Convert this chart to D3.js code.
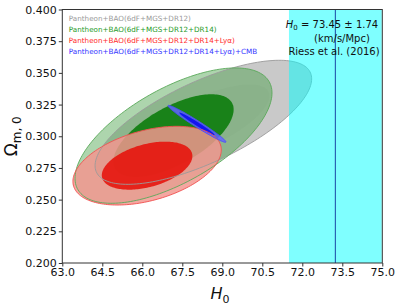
<!DOCTYPE html>
<html>
<head>
<meta charset="utf-8">
<script src="https://cdn.jsdelivr.net/npm/d3@7"></script>
<style>
  html, body { margin: 0; padding: 0; background: #fff; }
  svg { display: block; font-family: "DejaVu Sans", sans-serif; }
</style>
</head>
<body>
<svg id="chart" width="399" height="307"></svg>
<script>
// ---------- data ----------
const xTicks = [63.0, 64.5, 66.0, 67.5, 69.0, 70.5, 72.0, 73.5, 75.0];
const yTicks = [0.200, 0.225, 0.250, 0.275, 0.300, 0.325, 0.350, 0.375, 0.400];
const seriesNames = [
  "Pantheon+BAO(6dF+MGS+DR12)",
  "Pantheon+BAO(6dF+MGS+DR12+DR14)",
  "Pantheon+BAO(6dF+MGS+DR12+DR14+Lyα)",
  "Pantheon+BAO(6dF+MGS+DR12+DR14+Lyα)+CMB"
];
// Gaussian posterior summaries: mean H0, mean Om, sigma H0, sigma Om, correlation
const meanH0   = [68.29, 67.17, 66.18, 68.05];
const meanOm   = [0.311, 0.3005, 0.2768, 0.3098];
const sigmaH0  = [1.635, 1.487, 1.12, 0.437];
const sigmaOm  = [0.0197, 0.0215, 0.0125, 0.00586];
const corr     = [0.70, 0.63, 0.40, -0.98];
const levels   = [6.17, 2.30];          // delta chi^2 for 2 sigma, 1 sigma
const riessH0  = 73.24;
const riessErr = 1.74;
const riessText = ["H0 = 73.45 ± 1.74", "(km/s/Mpc)", "Riess et al. (2016)"];

// ---------- styles ----------
const fill2 = ["#c9c9c9", "#3c9a3c", "#f3968f", "#6464ff"];
const op2   = [1.0, 0.42, 0.84, 0.85];
const fill1 = ["#c3c3c3", "#137f13", "#e5150d", "#1010f0"];
const op1   = [1.0, 0.95, 0.9, 0.95];
const edge  = ["#9a9a9a", "#5aa85a", "#f25050", "#4a4aff"];
const legendColors = ["#9a9a9a", "#1f9a1f", "#ff2a2a", "#3434ff"];

const W = 399, H = 307;
const m = { left: 62.3, top: 9.5, right: 399 - 382.3, bottom: 307 - 263 };
const svg = d3.select("#chart");

const x = d3.scaleLinear().domain([63, 75]).range([m.left, W - m.right]);
const y = d3.scaleLinear().domain([0.2, 0.4]).range([H - m.bottom, m.top]);

svg.append("defs").append("clipPath").attr("id", "clip")
  .append("rect").attr("x", x(63)).attr("y", y(0.4))
  .attr("width", x(75) - x(63)).attr("height", y(0.2) - y(0.4));

const plot = svg.append("g").attr("clip-path", "url(#clip)");

function contour(i, k) {
  const r = Math.sqrt(k);
  const sH = sigmaH0[i], sO = sigmaOm[i], rho = corr[i];
  const pts = d3.range(0, 361, 2).map(a => {
    const t = a * Math.PI / 180;
    const u = Math.cos(t), v = Math.sin(t);
    const dH = r * sH * u;
    const dO = r * (rho * sO * u + sO * Math.sqrt(1 - rho * rho) * v);
    return [x(meanH0[i] + dH), y(meanOm[i] + dO)];
  });
  return d3.line()(pts) + "Z";
}

// fills
for (let i = 0; i < 4; i++) {
  plot.append("path").attr("d", contour(i, levels[0]))
    .attr("fill", fill2[i]).attr("fill-opacity", op2[i]);
  plot.append("path").attr("d", contour(i, levels[1]))
    .attr("fill", fill1[i]).attr("fill-opacity", op1[i]);
}
// edges
for (let i = 0; i < 4; i++) {
  plot.append("path").attr("d", contour(i, levels[0]))
    .attr("fill", "none").attr("stroke", edge[i]).attr("stroke-width", 1)
    .attr("stroke-opacity", 0.9);
}

// Riess band
plot.append("rect")
  .attr("x", x(riessH0 - riessErr)).attr("y", y(0.4))
  .attr("width", x(riessH0 + riessErr) - x(riessH0 - riessErr))
  .attr("height", y(0.2) - y(0.4))
  .attr("fill", "#00ffff").attr("fill-opacity", 0.5);
plot.append("line")
  .attr("x1", x(riessH0)).attr("x2", x(riessH0))
  .attr("y1", y(0.4)).attr("y2", y(0.2))
  .attr("stroke", "#2356ad").attr("stroke-width", 1.1);

// axes
const xAxis = d3.axisBottom(x).tickValues(xTicks).tickFormat(d3.format(".1f")).tickSize(3.5).tickPadding(2);
const yAxis = d3.axisLeft(y).tickValues(yTicks).tickFormat(d3.format(".3f")).tickSize(3.5).tickPadding(2);
const gx = svg.append("g").attr("transform", `translate(0,${y(0.2)})`).call(xAxis);
const gy = svg.append("g").attr("transform", `translate(${x(63)},0)`).call(yAxis);
[gx, gy].forEach(g => {
  g.select(".domain").remove();
  g.selectAll("text").attr("font-size", 11).attr("fill", "#111")
    .attr("font-family", "DejaVu Sans, sans-serif");
  g.selectAll("line").attr("stroke", "#333");
});

// spines
svg.append("rect").attr("x", x(63)).attr("y", y(0.4))
  .attr("width", x(75) - x(63)).attr("height", y(0.2) - y(0.4))
  .attr("fill", "none").attr("stroke", "#333").attr("stroke-width", 1);

// legend
const lg = svg.append("g");
seriesNames.forEach((s, i) => {
  lg.append("text").attr("x", x(63) + 6.5).attr("y", 21 + i * 11)
    .attr("font-size", 7.2).attr("fill", legendColors[i]).text(s);
});

// Riess annotation
const ann = svg.append("g").attr("font-size", 10).attr("fill", "#111").attr("text-anchor", "middle");
const t0 = ann.append("text").attr("x", 332).attr("y", 28);
t0.append("tspan").attr("font-style", "italic").text("H");
t0.append("tspan").attr("font-size", 7).attr("dy", 2).text("0");
t0.append("tspan").attr("dy", -2).text(riessText[0].slice(2));
ann.append("text").attr("x", 342).attr("y", 41.5).text(riessText[1]);
ann.append("text").attr("x", 334).attr("y", 54.5).text(riessText[2]);

// axis labels
const xl = svg.append("text").attr("x", 220).attr("y", 299).attr("text-anchor", "middle")
  .attr("font-size", 16).attr("fill", "#111");
xl.append("tspan").attr("font-style", "italic").text("H");
xl.append("tspan").attr("font-size", 11).attr("dy", 4).text("0");

const yl = svg.append("text").attr("transform", `translate(17,${(y(0.2) + y(0.4)) / 2}) rotate(-90)`)
  .attr("text-anchor", "middle").attr("font-size", 17).attr("fill", "#111");
yl.append("tspan").text("Ω");
yl.append("tspan").attr("font-size", 12).attr("dy", 4).text("m, 0");
</script>
</body>
</html>
